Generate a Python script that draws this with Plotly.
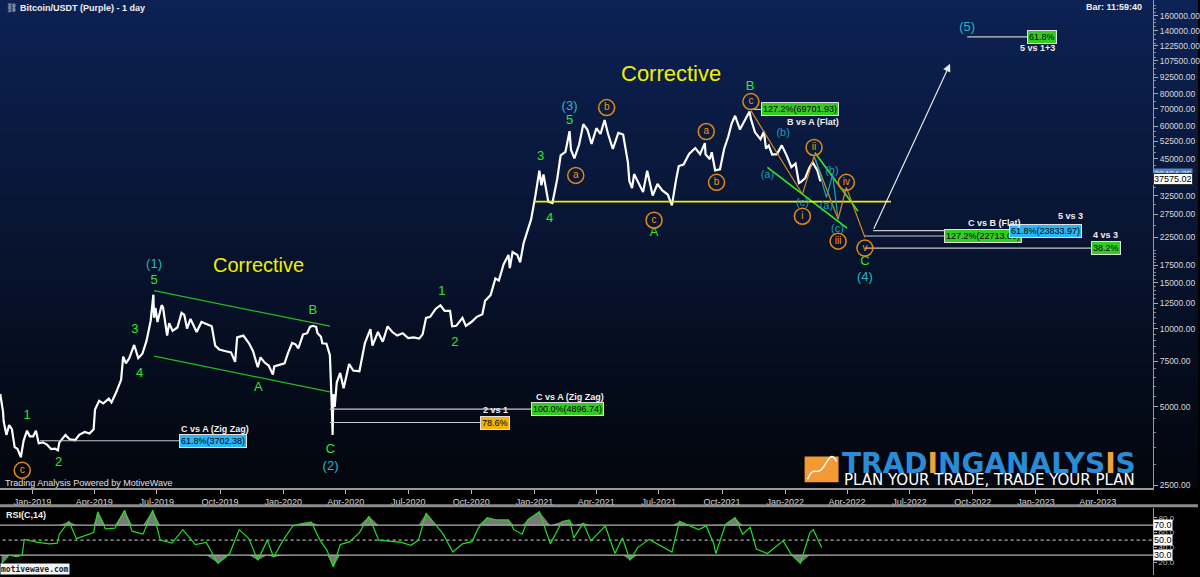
import numpy as np
import plotly.graph_objects as go

# ---------------- data ----------------
dates = ["2018-11-15","2018-11-19","2018-11-20","2018-11-24","2018-11-28","2018-12-02","2018-12-06","2018-12-10",
 "2018-12-15","2018-12-19","2018-12-24","2018-12-28","2019-01-02","2019-01-06","2019-01-10","2019-01-16",
 "2019-01-22","2019-01-28","2019-02-03","2019-02-07","2019-02-09","2019-02-18","2019-02-24","2019-03-04",
 "2019-03-10","2019-03-18","2019-03-25","2019-03-31","2019-04-02","2019-04-08","2019-04-14","2019-04-22",
 "2019-04-26","2019-05-03","2019-05-10","2019-05-13","2019-05-17","2019-05-22","2019-05-29","2019-06-04",
 "2019-06-10","2019-06-16","2019-06-22","2019-06-26","2019-06-27","2019-06-29","2019-07-02","2019-07-08",
 "2019-07-10","2019-07-16","2019-07-19","2019-07-24","2019-07-31","2019-08-06","2019-08-10","2019-08-14",
 "2019-08-19","2019-08-28","2019-09-04","2019-09-12","2019-09-19","2019-09-24","2019-09-30","2019-10-08",
 "2019-10-17","2019-10-23","2019-10-26","2019-11-04","2019-11-12","2019-11-18","2019-11-22","2019-11-25",
 "2019-11-29","2019-12-05","2019-12-11","2019-12-17","2019-12-19","2019-12-27","2020-01-03","2020-01-08",
 "2020-01-14","2020-01-19","2020-01-23","2020-01-30","2020-02-05","2020-02-09","2020-02-13","2020-02-18",
 "2020-02-20","2020-02-25","2020-02-27","2020-03-04","2020-03-09","2020-03-12","2020-03-13","2020-03-14",
 "2020-03-16","2020-03-19","2020-03-24","2020-03-29","2020-04-06","2020-04-12","2020-04-21","2020-04-29",
 "2020-05-07","2020-05-10","2020-05-18","2020-05-25","2020-06-01","2020-06-08","2020-06-15","2020-06-23",
 "2020-07-01","2020-07-09","2020-07-17","2020-07-22","2020-07-27","2020-08-02","2020-08-10","2020-08-17",
 "2020-08-23","2020-08-31","2020-09-03","2020-09-09","2020-09-18","2020-09-23","2020-10-01","2020-10-09",
 "2020-10-17","2020-10-21","2020-10-29","2020-11-05","2020-11-10","2020-11-17","2020-11-24","2020-11-26",
 "2020-11-30","2020-12-07","2020-12-11","2020-12-16","2020-12-21","2020-12-27","2021-01-02","2021-01-08",
 "2021-01-11","2021-01-14","2021-01-21","2021-01-27","2021-02-03","2021-02-08","2021-02-15","2021-02-21",
 "2021-02-23","2021-02-28","2021-03-07","2021-03-13","2021-03-19","2021-03-25","2021-04-01","2021-04-07",
 "2021-04-13","2021-04-18","2021-04-25","2021-05-03","2021-05-10","2021-05-13","2021-05-17","2021-05-19",
 "2021-05-23","2021-05-26","2021-06-01","2021-06-08","2021-06-14","2021-06-18","2021-06-22","2021-06-29",
 "2021-07-06","2021-07-14","2021-07-20","2021-07-26","2021-07-30","2021-08-06","2021-08-14","2021-08-23",
 "2021-08-30","2021-09-06","2021-09-07","2021-09-13","2021-09-16","2021-09-21","2021-09-28","2021-10-04",
 "2021-10-10","2021-10-15","2021-10-20","2021-10-27","2021-11-03","2021-11-10","2021-11-12","2021-11-18",
 "2021-11-26","2021-12-01","2021-12-04","2021-12-08","2021-12-13","2021-12-20","2021-12-27","2022-01-03",
 "2022-01-10","2022-01-16","2022-01-21","2022-01-24","2022-01-30","2022-02-05","2022-02-10","2022-02-13",
 "2022-02-17","2022-02-21","2022-02-23"]
prices = [5600,4800,4400,3900,4250,4100,3500,3450,
 3200,3700,4050,3850,3850,4050,3620,3650,
 3580,3440,3450,3400,3640,3900,3750,3720,
 3900,4000,3950,4100,4880,5270,5150,5380,
 5200,5700,6350,7800,7350,7700,8650,7700,
 8000,8970,10700,13500,11000,12000,10600,12300,
 12100,9400,10500,9800,10100,11500,11300,10000,
 10900,9700,10600,10400,10200,8600,8300,8200,
 8100,7450,9250,9400,8800,8200,7600,7100,
 7750,7400,7200,6650,7150,7250,7350,8050,
 8800,8700,8400,9500,9600,10150,10250,10150,
 9600,9300,8780,8750,7900,4850,3900,5600,
 5000,6200,6750,5900,7300,6900,6850,8800,
 9950,8600,9700,8900,10200,9700,9400,9600,
 9200,9250,9150,9500,11000,11100,11900,12300,
 11700,11700,10200,10250,11000,10250,10600,11100,
 11350,12800,13450,15600,15300,17700,19200,17100,
 19700,19200,18000,21300,23500,26300,32200,40500,
 35600,39200,30800,30400,37600,46400,47900,57500,
 48800,45200,51200,61200,58200,51300,59000,56100,
 63500,56200,49100,56600,55800,49700,43500,37000,
 34700,39300,36700,33500,40500,35800,32500,36000,
 34000,32800,29800,37300,42200,42800,47000,49500,
 46900,51700,46800,44900,47700,40600,41000,49100,
 54700,61500,65900,58400,62900,68500,64100,56900,
 53600,57200,49300,50600,46700,46900,50700,46400,
 41800,43100,36300,36700,37900,41500,43600,42200,
 40500,37000,37575]

rsi_dates = ["2018-11-17","2018-11-28","2018-12-09","2018-12-17","2018-12-20","2019-01-09","2019-01-26","2019-02-06",
 "2019-02-09","2019-02-23","2019-03-06","2019-03-23","2019-03-31","2019-04-06","2019-04-17","2019-05-01",
 "2019-05-15","2019-05-26","2019-06-11","2019-06-25","2019-07-06","2019-07-23","2019-08-08","2019-08-26",
 "2019-09-11","2019-09-28","2019-10-15","2019-10-29","2019-11-12","2019-11-25","2019-12-09","2019-12-18",
 "2020-01-01","2020-01-15","2020-01-28","2020-02-11","2020-02-23","2020-03-05","2020-03-14","2020-03-24",
 "2020-04-07","2020-04-21","2020-05-05","2020-05-19","2020-06-05","2020-06-21","2020-07-05","2020-07-16",
 "2020-07-27","2020-08-10","2020-08-21","2020-09-04","2020-09-18","2020-10-02","2020-10-11","2020-10-24",
 "2020-11-07","2020-11-24","2020-12-02","2020-12-14","2020-12-22","2021-01-08","2021-01-24","2021-02-10",
 "2021-02-21","2021-02-27","2021-03-13","2021-03-24","2021-04-05","2021-04-14","2021-04-28","2021-05-09",
 "2021-05-20","2021-05-31","2021-06-17","2021-06-28","2021-07-20","2021-07-31","2021-08-11","2021-08-28",
 "2021-09-08","2021-09-19","2021-09-22","2021-10-06","2021-10-20","2021-10-31","2021-11-11","2021-11-20",
 "2021-12-06","2021-12-29","2022-01-09","2022-01-23","2022-02-06","2022-02-11","2022-02-23"]
rsi_vals = [19,30,28,30,51,47,45,46,
 58,75,52,58,60,88,65,66,
 90,62,58,90,50,46,64,44,
 47,19,32,64,52,23,50,27,
 50,69,72,74,51,36,14,44,
 48,60,82,50,48,47,43,50,
 86,71,58,34,45,48,66,80,
 77,77,64,58,77,88,45,75,
 77,53,73,49,60,69,32,53,
 23,40,51,45,34,75,71,64,
 69,45,32,71,80,58,67,38,
 32,49,32,19,60,64,40]

# Elliott wave labels
green_text = ["1","2","3","4","5","A","B","C","1","2","3","4","5","A","B","C"]
green_dates = ["2018-12-24","2019-02-08","2019-05-30","2019-06-06","2019-06-27","2019-11-26","2020-02-13","2020-03-10",
               "2020-08-19","2020-09-07","2021-01-10","2021-01-23","2021-02-21","2021-06-24","2021-11-11","2022-04-27"]
green_prices = [4630,3057,9890,6706,15250,5928,11700,3428,13830,8820,45960,26350,63150,23280,85270,18030]

cyan_text = ["(1)","(2)","(3)","(4)","(5)"]
cyan_dates = ["2019-06-27","2020-03-10","2021-02-21","2022-04-27","2022-09-23"]
cyan_prices = [17550,2951,71470,15650,143500]

minor_text = ["(a)","(b)","(c)","(a)","(b)","(c)"]
minor_dates = ["2021-12-06","2021-12-29","2022-01-26","2022-03-02","2022-03-10","2022-03-18"]
minor_prices = [38860,56330,30350,29550,40260,24120]

circ_text = ["c","a","b","c","a","b","c","i","ii","iii","iv","v"]
circ_dates = ["2018-12-17","2021-03-02","2021-04-16","2021-06-24","2021-09-08","2021-09-23","2021-11-12",
              "2022-01-26","2022-02-12","2022-03-19","2022-03-31","2022-04-27"]
circ_prices = [2848,38860,70830,26120,57320,36530,74700,27060,49770,21700,36530,20400]

# wave path projections
orange_dates = ["2021-11-12","2022-01-26","2022-02-12","2022-03-19","2022-03-31","2022-04-27"]
orange_prices = [68970,32860,45960,26350,34940,22470]
teal_dates = ["2022-02-14","2022-03-02","2022-03-11","2022-03-19"]
teal_prices = [45000,32000,39200,26350]

# channel & trend lines
chan_dates = ["2019-06-27","2020-03-09"]
chan_upper = [13990,10216]
chan_lower = [7839,5706]
g1_dates = ["2021-12-06","2022-04-01"]; g1_prices = [41700,24340]
g2_dates = ["2022-02-13","2022-04-17"]; g2_prices = [47600,28280]
yellow_dates = ["2021-01-01","2022-06-04"]; yellow_level = 30800

# fibonacci levels: (start, end, level)
fib_lines = [("2019-01-12","2019-08-07",3702.38),
             ("2020-03-09","2021-01-01",4896.74),
             ("2020-03-09","2020-10-16",4352),
             ("2021-11-12","2021-11-30",69701.93),
             ("2022-05-09","2022-11-27",23833.97),
             ("2022-04-27","2022-08-25",22713.09),
             ("2022-04-27","2023-03-25",20400),
             ("2022-09-23","2022-12-22",132600)]
# fibonacci boxes: (date, level, text, colour)
fib_boxes = [("2019-09-21",3702.38,"61.8%(3702.38)","#29b6f6"),
             ("2021-02-18",4896.74,"100.0%(4896.74)","#33cc22"),
             ("2020-11-04",4352,"78.6%","#f5b400"),
             ("2022-01-23",69701.93,"127.2%(69701.93)","#33cc22"),
             ("2022-10-16",22713.09,"127.2%(22713.09)","#33cc22"),
             ("2023-01-15",23833.97,"61.8%(23833.97)","#29b6f6"),
             ("2023-04-13",20400,"38.2%","#33cc22"),
             ("2023-01-10",132600,"61.8%","#33cc22")]
fib_notes = [("2019-09-23",4091,"C vs A (Zig Zag)"),
             ("2021-02-21",5474,"C vs A (Zig Zag)"),
             ("2020-11-05",4880,"2 vs 1"),
             ("2022-02-10",62600,"B vs A (Flat)"),
             ("2022-11-02",25430,"C vs B (Flat)"),
             ("2023-02-20",27060,"5 vs 3"),
             ("2023-04-13",22870,"4 vs 3"),
             ("2023-01-04",120300,"5 vs 1+3")]

ytick_vals = [2500,5000,7500,10000,12500,15000,17500,22500,27500,32500,45000,52500,60000,70000,80000,92500,107500,122500,140000,160000]
ytick_text = ["%.2f" % v for v in ytick_vals]

# ---------------- figure ----------------
W, H = 1200, 577
R = 45
PW = W - R
def px(x): return x / PW
def py(y): return 1 - y / H

fig = go.Figure()

# price
fig.add_trace(go.Scatter(x=dates, y=prices, mode="lines", line=dict(color="white", width=2.2),
                         xaxis="x", yaxis="y", hoverinfo="skip"))

def add_line(xs, ys, color, width=1.2, dash=None):
    fig.add_trace(go.Scatter(x=xs, y=ys, mode="lines", line=dict(color=color, width=width, dash=dash),
                             xaxis="x", yaxis="y", hoverinfo="skip"))

add_line(chan_dates, chan_upper, "#22bb22", 1.2)
add_line(chan_dates, chan_lower, "#22bb22", 1.2)
add_line(g1_dates, g1_prices, "#33ee22", 1.6)
add_line(g2_dates, g2_prices, "#33ee22", 1.6)
add_line(yellow_dates, [yellow_level, yellow_level], "#f0f000", 1.6)
add_line(orange_dates, orange_prices, "#d98a1c", 1.2)
add_line(teal_dates, teal_prices, "#1aa8b8", 1.2)
for d0, d1, lv in fib_lines:
    add_line([d0, d1], [lv, lv], "#c8c8c8", 1.2)

# labels
def add_text(xs, ys, txt, color, size, family="Liberation Sans"):
    fig.add_trace(go.Scatter(x=xs, y=ys, text=txt, mode="text", textposition="middle center",
                             textfont=dict(color=color, size=size, family=family),
                             xaxis="x", yaxis="y", hoverinfo="skip"))

add_text(green_dates, green_prices, green_text, "#2ee62e", 13)
add_text(cyan_dates, cyan_prices, cyan_text, "#21b9c9", 13)
add_text(minor_dates, minor_prices, minor_text, "#1aa0b4", 11)
fig.add_trace(go.Scatter(x=circ_dates, y=circ_prices, text=circ_text, mode="markers+text",
                         textposition="middle center",
                         marker=dict(symbol="circle-open", size=16, color="#e08a14", line=dict(width=1.5, color="#e08a14")),
                         textfont=dict(color="#f0960f", size=10, family="Liberation Sans"),
                         xaxis="x", yaxis="y", hoverinfo="skip"))

# RSI
rsi_arr = np.array(rsi_vals, dtype=float)
fig.add_trace(go.Scatter(x=rsi_dates, y=[70]*len(rsi_dates), mode="lines", line=dict(width=0),
                         xaxis="x2", yaxis="y2", hoverinfo="skip"))
fig.add_trace(go.Scatter(x=rsi_dates, y=np.maximum(rsi_arr, 70), mode="lines", line=dict(width=0),
                         fill="tonexty", fillcolor="rgba(150,150,150,0.8)", xaxis="x2", yaxis="y2", hoverinfo="skip"))
fig.add_trace(go.Scatter(x=rsi_dates, y=[30]*len(rsi_dates), mode="lines", line=dict(width=0),
                         xaxis="x2", yaxis="y2", hoverinfo="skip"))
fig.add_trace(go.Scatter(x=rsi_dates, y=np.minimum(rsi_arr, 30), mode="lines", line=dict(width=0),
                         fill="tonexty", fillcolor="rgba(150,150,150,0.8)", xaxis="x2", yaxis="y2", hoverinfo="skip"))
for lv, dash in [(70, None), (50, "dot"), (30, None)]:
    fig.add_trace(go.Scatter(x=["2018-11-01", "2023-07-01"], y=[lv, lv], mode="lines",
                             line=dict(color="#b0b0b0", width=1.3, dash=dash), xaxis="x2", yaxis="y2", hoverinfo="skip"))
fig.add_trace(go.Scatter(x=rsi_dates, y=rsi_vals, mode="lines", line=dict(color="#22dd22", width=1.2),
                         xaxis="x2", yaxis="y2", hoverinfo="skip"))

# ---------------- shapes (background) ----------------
shapes = []
top = np.array([13, 34, 84]); bot = np.array([3, 6, 13])
N = 40
for i in range(N):
    t = i / (N - 1)
    c = (top * (1 - t) + bot * t).astype(int)
    y0 = i * 490 / N; y1 = (i + 1) * 490 / N + 0.5
    shapes.append(dict(type="rect", xref="paper", yref="paper", x0=0, x1=W / PW, y0=py(y1), y1=py(y0),
                       fillcolor="rgb(%d,%d,%d)" % tuple(c), line=dict(width=0), layer="below"))
# separator
shapes.append(dict(type="rect", xref="paper", yref="paper", x0=0, x1=W / PW, y0=py(509), y1=py(506),
                   fillcolor="#8c8c8c", line=dict(width=0)))
# logo box
shapes.append(dict(type="rect", xref="paper", yref="paper", x0=px(806), x1=px(840), y0=py(484), y1=py(458),
                   fillcolor="#f39a36", line=dict(width=0)))
shapes.append(dict(type="path", xref="paper", yref="paper",
                   path="M %f,%f C %f,%f %f,%f %f,%f S %f,%f %f,%f" % (
                       px(809), py(481), px(815), py(466), px(818), py(478), px(824), py(470),
                       px(832), py(452), px(838), py(463)),
                   line=dict(color="white", width=1.5)))

# ---------------- annotations ----------------
ann = []
ann.append(dict(text="Corrective", x="2019-11-26", y=np.log10(17550), xref="x", yref="y", showarrow=False,
                font=dict(color="#f0f000", size=20, family="Liberation Sans")))
ann.append(dict(text="Corrective", x="2021-07-19", y=np.log10(95600), xref="x", yref="y", showarrow=False,
                font=dict(color="#f0f000", size=22, family="Liberation Sans")))
for d, lv, t, col in fib_boxes:
    ann.append(dict(text=t, x=d, y=np.log10(lv), xref="x", yref="y", showarrow=False, bgcolor=col,
                    bordercolor="#e0e0e0", borderwidth=1, borderpad=1,
                    font=dict(color="#000000", size=9, family="Liberation Sans")))
for d, lv, t in fib_notes:
    ann.append(dict(text="<b>%s</b>" % t, x=d, y=np.log10(lv), xref="x", yref="y", showarrow=False,
                    font=dict(color="#f0f0f0", size=9, family="Liberation Sans")))
# projection arrow
ann.append(dict(text="", x="2022-08-29", y=np.log10(104400), ax="2022-05-09", ay=np.log10(23910),
                xref="x", yref="y", axref="x", ayref="y", showarrow=True, arrowhead=2, arrowsize=1.3,
                arrowwidth=1.2, arrowcolor="#e8e8e8"))
# price flags on axis
ann.append(dict(text="39494.35", x=1.0, y=np.log10(39494.35), xref="paper", yref="y", xanchor="left",
                showarrow=False, bgcolor="#5a86b8", font=dict(color="#cfe0f0", size=9, family="Liberation Sans"),
                borderpad=0))
ann.append(dict(text="37575.02", x=1.0, y=np.log10(37575.02), xref="paper", yref="y", xanchor="left",
                showarrow=False, bgcolor="#ffffff", bordercolor="#333333", borderwidth=1,
                font=dict(color="#000000", size=9, family="Liberation Sans"), borderpad=0))
for lv in [70, 50, 30]:
    ann.append(dict(text="%.1f" % lv, x=1.0, y=lv, xref="paper", yref="y2", xanchor="left", showarrow=False,
                    bgcolor="#ffffff", font=dict(color="#000000", size=9, family="Liberation Sans"), borderpad=0))
# header / footer texts
ann.append(dict(text="<b>Bitcoin/USDT (Purple) - 1 day</b>", x=px(18), y=py(8), xref="paper", yref="paper",
                xanchor="left", yanchor="middle", showarrow=False,
                font=dict(color="#f0f0f0", size=9, family="Liberation Sans")))
ann.append(dict(text="\u26d3", x=px(4), y=py(8), xref="paper", yref="paper", xanchor="left", yanchor="middle",
                showarrow=False, font=dict(color="#e0e0e0", size=9, family="DejaVu Sans")))
ann.append(dict(text="<b>Bar: 11:59:40</b>", x=px(1146), y=py(7), xref="paper", yref="paper",
                xanchor="right", yanchor="middle", showarrow=False,
                font=dict(color="#f0f0f0", size=9, family="Liberation Sans")))
ann.append(dict(text="Trading Analysis Powered by MotiveWave", x=px(3), y=py(485), xref="paper", yref="paper",
                xanchor="left", yanchor="middle", showarrow=False,
                font=dict(color="#e0e0e0", size=9, family="Liberation Sans")))
ann.append(dict(text="<b>RSI(C,14)</b>", x=px(4), y=py(517), xref="paper", yref="paper",
                xanchor="left", yanchor="middle", showarrow=False,
                font=dict(color="#f0f0f0", size=9, family="Liberation Sans")))
ann.append(dict(text="<b>motivewave.com</b>", x=0, y=0, xref="paper", yref="paper",
                xanchor="left", yanchor="bottom", showarrow=False, bgcolor="#f4f4f4", borderpad=0,
                font=dict(color="#222222", size=8, family="DejaVu Sans Mono")))
ann.append(dict(text="<b>TRAD<span style='color:#f3a13a'>I</span>NGANALYS<span style='color:#f3a13a'>I</span>S</b>",
                x=px(841), y=py(465), xref="paper", yref="paper", xanchor="left", yanchor="middle",
                showarrow=False, font=dict(color="#2a8bd6", size=28, family="DejaVu Sans")))
ann.append(dict(text="PLAN YOUR TRADE, TRADE YOUR PLAN", x=px(843), y=py(482), xref="paper", yref="paper",
                xanchor="left", yanchor="middle", showarrow=False,
                font=dict(color="#ffffff", size=15, family="DejaVu Sans")))

minor_vals = list(range(2500, 20000, 500)) + list(range(20000, 60000, 2500)) + list(range(60000, 180000, 5000))

fig.update_layout(
    width=W, height=H, margin=dict(l=0, r=R, t=0, b=0),
    paper_bgcolor="#000000", plot_bgcolor="rgba(0,0,0,0)", showlegend=False,
    shapes=shapes, annotations=ann,
    xaxis=dict(domain=[0, 1], anchor="y", type="date", range=["2018-11-14 16:00", "2023-06-20 12:00"],
               tickformat="%b-%Y", dtick="M3", tick0="2019-01-01", ticks="outside", ticklen=4,
               tickcolor="#bbbbbb", tickfont=dict(color="#d8d8d8", size=9, family="Liberation Sans"),
               showline=True, linecolor="#9a9a9a", linewidth=1.5, showgrid=False, zeroline=False),
    xaxis2=dict(domain=[0, 1], anchor="y2", matches="x", type="date", showticklabels=False, showgrid=False,
                zeroline=False, showline=False, ticks=""),
    yaxis=dict(domain=[py(490), 1], type="log", range=[3.3855, 5.2643], side="right", anchor="x",
               tickmode="array", tickvals=ytick_vals, ticktext=ytick_text, ticks="outside", ticklen=4,
               tickcolor="#aaaaaa", tickfont=dict(color="#d8d8d8", size=8.5, family="Liberation Sans"),
               showline=True, linecolor="#9a9a9a", showgrid=False, zeroline=False,
               minor=dict(tickmode="array", tickvals=minor_vals, ticks="outside", ticklen=2, tickcolor="#888888",
                          showgrid=False)),
    yaxis2=dict(domain=[0, py(510)], range=[3.3, 92.7], side="right", anchor="x2",
                tickmode="array", tickvals=[20, 40, 60, 80], ticktext=["20.0", "40.0", "60.0", "80.0"],
                ticks="outside", ticklen=3, tickcolor="#aaaaaa",
                tickfont=dict(color="#bbbbbb", size=8, family="Liberation Sans"),
                showline=True, linecolor="#9a9a9a", showgrid=False, zeroline=False),
)

fig.write_html("out.html", config={"displayModeBar": False, "staticPlot": True},
               post_script="document.body.style.margin='0px';document.body.style.padding='0px';"
                           "document.body.style.background='#000000';document.body.style.overflow='hidden';")
